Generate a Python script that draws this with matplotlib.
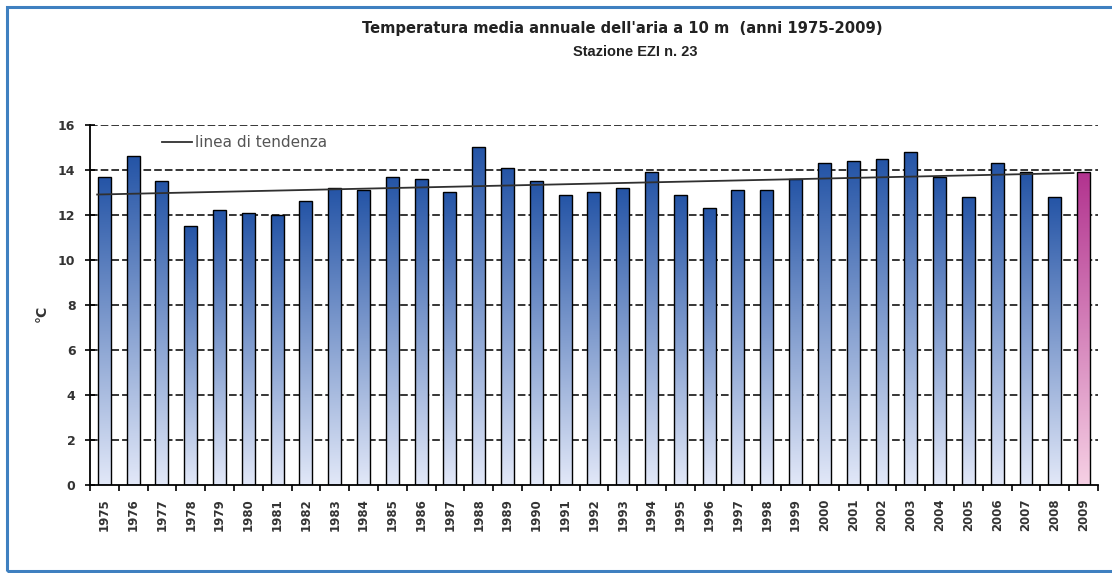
import numpy as np
import matplotlib
matplotlib.use('Agg')
import matplotlib.pyplot as plt
from matplotlib.colors import LinearSegmentedColormap
from matplotlib.patches import Rectangle

plt.rcParams['font.family'] = ['DejaVu Sans']

years = list(range(1975, 2010))
temps = [13.7, 14.6, 13.5, 11.5, 12.2, 12.1, 12.0, 12.6, 13.2, 13.1,
         13.7, 13.6, 13.0, 15.0, 14.1, 13.5, 12.9, 13.0, 13.2, 13.9,
         12.9, 12.3, 13.1, 13.1, 13.6, 14.3, 14.4, 14.5, 14.8, 13.7,
         12.8, 14.3, 13.9, 12.8, 13.9]
yticks = [0, 2, 4, 6, 8, 10, 12, 14, 16]

title = "Temperatura media annuale dell'aria a 10 m  (anni 1975-2009)"
subtitle = "Stazione EZI n. 23"

blue_top, blue_bot = '#2454a6', '#e2e8f8'
pink_top, pink_bot = '#b2338f', '#f6d0e4'

fig = plt.figure(figsize=(11.12, 5.73), dpi=100)
ax = fig.add_axes([0.0809, 0.1536, 0.9065, 0.6283])

x = np.arange(len(years))
bars = ax.bar(x, temps, width=0.45, facecolor='none', edgecolor='black',
              linewidth=1.0, zorder=3)

# vertical gradient fill inside every bar, last year in pink
grad = np.linspace(0, 1, 256).reshape(-1, 1)
for i, b in enumerate(bars):
    top, bot = (pink_top, pink_bot) if i == len(bars) - 1 else (blue_top, blue_bot)
    cmap = LinearSegmentedColormap.from_list('g%d' % i, [bot, top])
    x0, w, h = b.get_x(), b.get_width(), b.get_height()
    im = ax.imshow(grad, cmap=cmap, extent=(x0, x0 + w, 0, h), origin='lower',
                   aspect='auto', zorder=2.5, interpolation='bilinear')
    im.set_clip_path(b)

# linear trend
k, c = np.polyfit(x, temps, 1)
xt = np.array([-0.25, len(years) - 1.35])
trend, = ax.plot(xt, k * xt + c, color='#303030', lw=1.3, zorder=4,
                 label='linea di tendenza')

ax.set_xlim(-0.5, len(years) - 0.5)
ax.set_ylim(0, 16)
ax.set_yticks(yticks)
ax.set_yticklabels([str(v) for v in yticks], fontsize=9, fontweight='bold', color='#333333')
for v in yticks[1:]:
    ax.axhline(v, color='black', lw=1.1, ls=(0, (5, 2)), zorder=1)

ax.set_xticks(x)
ax.set_xticklabels([str(y) for y in years], rotation=90, fontsize=8.5,
                   fontweight='bold', color='#333333')
ax.tick_params(axis='x', which='major', length=0, pad=9.5)
ax.set_xticks(np.arange(len(years) + 1) - 0.5, minor=True)
ax.tick_params(axis='x', which='minor', length=4, width=1.2, direction='out')
ax.tick_params(axis='y', length=7, width=1.2, direction='inout', pad=7)

for s in ['top', 'right']:
    ax.spines[s].set_visible(False)
for s in ['left', 'bottom']:
    ax.spines[s].set_linewidth(1.3)

leg = ax.legend(handles=[trend], loc='center left', bbox_to_anchor=(0.071, 0.95),
                frameon=False, handlelength=2.0, handletextpad=0.2,
                borderpad=0, borderaxespad=0, prop={'size': 11})
for t in leg.get_texts():
    t.set_color('#555555')

fig.text(622 / 1112, 1 - 28 / 573, title, ha='center', va='center', fontsize=10.6,
         fontweight='bold', color='#222222')
fig.text(635 / 1112, 1 - 52 / 573, subtitle, ha='center', va='center', fontsize=10.5,
         fontweight='bold', color='#222222', family='Liberation Sans')
fig.text(42 / 1112, 1 - 313 / 573, '°C', rotation=90, ha='center', va='center',
         fontsize=10, fontweight='bold', color='#333333')

fig.patches.append(Rectangle((7 / 1112, 2 / 573), 1.2, 564 / 573, transform=fig.transFigure,
                             fill=False, edgecolor='#3f80c0', lw=2.2))

fig.savefig('out.png', dpi=100)
